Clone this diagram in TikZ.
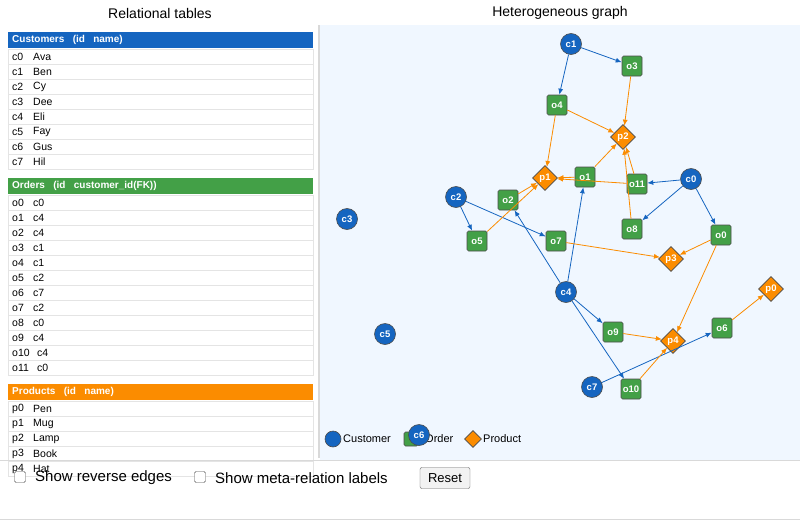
\documentclass[tikz,border=0pt]{standalone}
\usepackage{fontspec}
\setmainfont{Liberation Sans}
\usetikzlibrary{shapes.geometric,arrows.meta}
\definecolor{cblue}{HTML}{1565C0}
\definecolor{cgreen}{HTML}{43A047}
\definecolor{corange}{HTML}{FB8C00}
\definecolor{bgblue}{HTML}{F0F7FF}
\definecolor{rowline}{HTML}{E4E4E4}
\tikzset{
 cust/.style={circle,fill=cblue,draw=black!70,line width=0.6pt,minimum size=21pt,inner sep=0pt,text=white,font=\fontsize{9.5}{10}\selectfont\bfseries},
 ord/.style={rectangle,rounded corners=1.5pt,fill=cgreen,draw=black!70,line width=0.6pt,minimum size=20pt,inner sep=0pt,text=white,font=\fontsize{9.5}{10}\selectfont\bfseries},
 prod/.style={diamond,fill=corange,draw=black!70,line width=0.6pt,minimum size=25pt,inner sep=0pt,text=white,font=\fontsize{9.5}{10}\selectfont\bfseries},
 be/.style={draw=cblue,line width=0.8pt,-{Latex[length=6pt,width=5pt]}},
 oe/.style={draw=corange,line width=0.8pt,-{Latex[length=6pt,width=5pt]}},
 hdr/.style={anchor=west,text=white,font=\fontsize{10}{12}\selectfont\bfseries,inner sep=0pt},
 row/.style={anchor=west,font=\fontsize{10.5}{12}\selectfont,inner sep=0pt},
 ttl/.style={font=\fontsize{14}{16}\selectfont},
 ctl/.style={font=\fontsize{15}{17}\selectfont,anchor=west,inner sep=0pt},
 chk/.style={draw=black!70,rounded corners=1.5pt,fill=white,minimum size=11pt,inner sep=0pt},
 leg/.style={anchor=west,font=\fontsize{11}{13}\selectfont,inner sep=0pt},
}
\begin{document}
\begin{tikzpicture}[x=1pt,y=-1pt]
\useasboundingbox (0,0) rectangle (800,522);
\fill[white] (0,0) rectangle (800,522);
\fill[bgblue] (320,25) rectangle (800,460);
\draw[black!15,line width=1.5pt] (319,25) -- (319,458);
\node[ttl] (t1) at (160,13) {Relational tables};
\node[ttl] (t2) at (560,13) {Heterogeneous graph};
% tables
\fill[cblue] (8,32) rectangle (313,48);
\node[hdr] (h1) at (12,40) {Customers\ \ \ (id\ \ \ name)};
\foreach \a/\b [count=\i from 0] in {c0/Ava,c1/Ben,c2/Cy,c3/Dee,c4/Eli,c5/Fay,c6/Gus,c7/Hil}{
  \draw[rowline,fill=white] (8,49+15*\i) rectangle (313,64+15*\i);
  \node[row] at (12,57+15*\i) {\a};
  \node[row] at (33,57+15*\i) {\b};
}
\fill[cgreen] (8,178) rectangle (313,194);
\node[hdr] (h2) at (12,186) {Orders\ \ \ (id\ \ \ customer\_id(FK))};
\foreach \a/\b [count=\i from 0] in {o0/c0,o1/c4,o2/c4,o3/c1,o4/c1,o5/c2,o6/c7,o7/c2,o8/c0,o9/c4,o10/c4,o11/c0}{
  \draw[rowline,fill=white] (8,195+15*\i) rectangle (313,210+15*\i);
  \node[row] at (12,203+15*\i) {\a};
  \node[row] at (33,203+15*\i) {\ifnum\i>9 \hspace{4pt}\fi\b};
}
\fill[corange] (8,384) rectangle (313,400);
\node[hdr] (h3) at (12,392) {Products\ \ \ (id\ \ \ name)};
\foreach \a/\b [count=\i from 0] in {p0/Pen,p1/Mug,p2/Lamp,p3/Book,p4/Hat}{
  \draw[rowline,fill=white] (8,401+15*\i) rectangle (313,416+15*\i);
  \node[row] at (12,409+15*\i) {\a};
  \node[row] at (33,409+15*\i) {\b};
}
% graph nodes
\node[cust] (c1) at (571,44) {c1};
\node[ord] (o3) at (632,66) {o3};
\node[ord] (o4) at (557,105) {o4};
\node[prod] (p2) at (623,137) {p2};
\node[prod] (p1) at (545,178) {p1};
\node[ord] (o1) at (585,177) {o1};
\node[ord] (o11) at (637,184) {o11};
\node[cust] (c0) at (691,179) {c0};
\node[cust] (c2) at (456,197) {c2};
\node[ord] (o2) at (508,200) {o2};
\node[ord] (o5) at (477,241) {o5};
\node[ord] (o7) at (556,241) {o7};
\node[ord] (o8) at (632,229) {o8};
\node[ord] (o0) at (721,235) {o0};
\node[prod] (p3) at (671,259) {p3};
\node[cust] (c3) at (347,219) {c3};
\node[cust] (c4) at (566,292) {c4};
\node[prod] (p0) at (771,289) {p0};
\node[ord] (o9) at (613,332) {o9};
\node[prod] (p4) at (673,341) {p4};
\node[ord] (o6) at (722,328) {o6};
\node[cust] (c5) at (385,334) {c5};
\node[cust] (c7) at (592,387) {c7};
\node[ord] (o10) at (631,389) {o10};
% edges
\foreach \s/\t in {c1/o3,c1/o4,c2/o5,c2/o7,c0/o11,c0/o8,c0/o0,c4/o1,c4/o2,c4/o9,c4/o10,c7/o6}
  \draw[be] (\s) -- (\t);
\foreach \s/\t in {o3/p2,o4/p2,o4/p1,o1/p2,o1/p1,o11/p1,o11/p2,o8/p2,o2/p1,o5/p1,o7/p3,o0/p3,o0/p4,o9/p4,o10/p4,o6/p0}
  \draw[oe] (\s) -- (\t);
% legend
\node[cust,minimum size=16pt] (l1) at (333,439) {};
\node[leg] (l1t) at (343,439) {Customer};
\node[ord,minimum size=14pt] (l2) at (411,439) {};
\node[leg] (l2t) at (425,439) {Order};
\node[cust] (c6) at (419,435) {c6};
\node[prod,minimum size=17pt] (l3) at (473,439) {};
\node[leg] (l3t) at (483,439) {Product};
% bottom controls
\draw[black!15] (0,460) -- (800,460);
\draw[black!15] (0,519) -- (800,519);
\node[chk] (k1) at (20,477) {};
\node[ctl] (k1t) at (35,478) {Show reverse edges};
\node[chk] (k2) at (200,477) {};
\node[ctl] (k2t) at (215,478) {Show meta-relation labels};
\node[draw=black!60,fill=black!5,rounded corners=2pt,minimum width=50pt,minimum height=21pt,font=\fontsize{13}{15}\selectfont] (rs) at (445,478) {Reset};
\end{tikzpicture}
\end{document}
